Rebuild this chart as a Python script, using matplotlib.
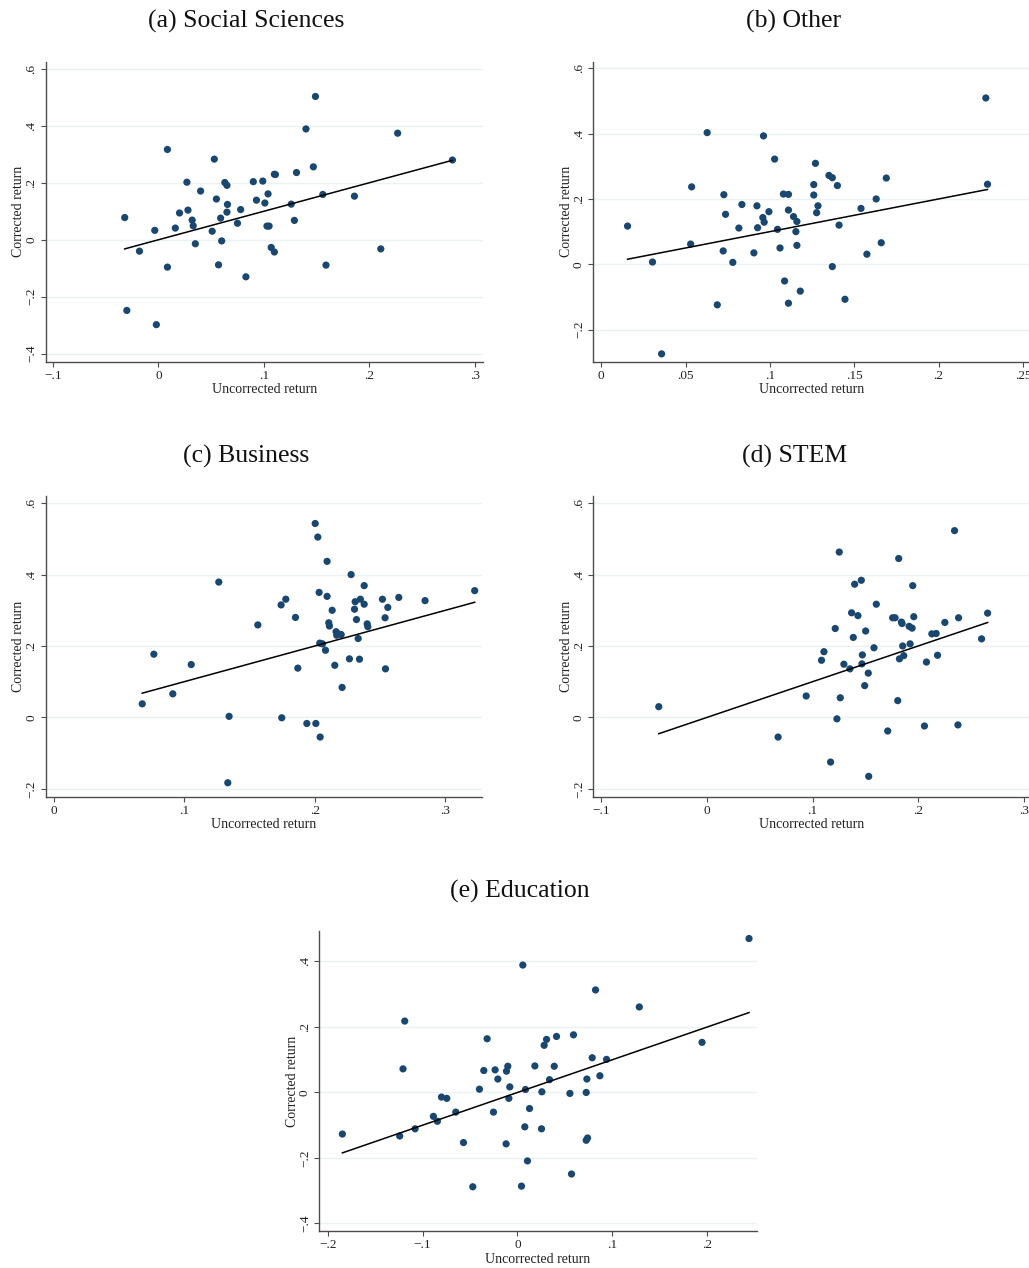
import numpy as np
import matplotlib
matplotlib.use("Agg")
import matplotlib.pyplot as plt
from matplotlib.ticker import FuncFormatter

plt.rcParams['font.family'] = ['Liberation Serif', 'DejaVu Serif']

# ---------------- data ----------------
soc_x = [0.149, 0.140, 0.227, 0.0085, 0.053, 0.279, 0.147, 0.131, 0.110, 0.111,
         0.027, 0.063, 0.090, 0.099, 0.065, 0.040, 0.104, 0.156, 0.186, 0.055,
         0.093, 0.101, 0.0655, 0.126, 0.078, 0.028, 0.065, 0.020, 0.059, -0.032,
         0.032, 0.129, 0.075, 0.033, 0.103, 0.105, 0.016, -0.0035, 0.051, 0.060,
         0.035, 0.211, 0.107, 0.110, -0.018, 0.057, 0.159, 0.0085, 0.083, -0.030,
         -0.002]
soc_y = [0.503, 0.389, 0.374, 0.317, 0.283, 0.280, 0.256, 0.236, 0.230, 0.229,
         0.202, 0.201, 0.204, 0.206, 0.191, 0.171, 0.161, 0.159, 0.153, 0.143,
         0.139, 0.129, 0.124, 0.125, 0.106, 0.104, 0.097, 0.094, 0.076, 0.078,
         0.069, 0.068, 0.058, 0.049, 0.048, 0.048, 0.041, 0.033, 0.030, -0.004,
         -0.014, -0.032, -0.027, -0.043, -0.040, -0.088, -0.089, -0.096, -0.130, -0.248,
         -0.298]

oth_x = [0.228, 0.0628, 0.0962, 0.1028, 0.127, 0.135, 0.137, 0.169, 0.126, 0.229,
         0.140, 0.0536, 0.0727, 0.108, 0.111, 0.126, 0.163, 0.0834, 0.0923, 0.1285,
         0.154, 0.111, 0.0994, 0.1277, 0.0737, 0.114, 0.0958, 0.116, 0.0966, 0.0156,
         0.141, 0.0816, 0.0927, 0.1045, 0.1154, 0.116, 0.053, 0.166, 0.106, 0.0723,
         0.0905, 0.1575, 0.0304, 0.078, 0.137, 0.1087, 0.118, 0.1445, 0.111, 0.0688,
         0.0358]
oth_y = [0.509, 0.403, 0.393, 0.322, 0.309, 0.272, 0.265, 0.264, 0.244, 0.245,
         0.241, 0.237, 0.213, 0.215, 0.214, 0.212, 0.200, 0.183, 0.179, 0.179,
         0.171, 0.166, 0.161, 0.158, 0.153, 0.146, 0.143, 0.131, 0.129, 0.117,
         0.120, 0.111, 0.112, 0.107, 0.100, 0.058, 0.062, 0.066, 0.050, 0.041,
         0.035, 0.031, 0.007, 0.006, -0.007, -0.051, -0.082, -0.107, -0.119, -0.124,
         -0.274]

bus_x = [0.2003, 0.2023, 0.2094, 0.2278, 0.1265, 0.2378, 0.3224, 0.2033, 0.2094, 0.2643,
         0.1778, 0.2349, 0.2518, 0.2309, 0.2844, 0.2378, 0.1742, 0.2559, 0.2304, 0.2133,
         0.1852, 0.2538, 0.2319, 0.2107, 0.2401, 0.1564, 0.2112, 0.2406, 0.2163, 0.2179,
         0.2202, 0.2168, 0.2332, 0.2038, 0.2059, 0.2082, 0.0768, 0.1054, 0.2153, 0.2265,
         0.2342, 0.1870, 0.2541, 0.2209, 0.0913, 0.0679, 0.1344, 0.1747, 0.1939, 0.2008,
         0.2041, 0.1334]
bus_y = [0.543, 0.505, 0.437, 0.400, 0.379, 0.369, 0.355, 0.350, 0.339, 0.336,
         0.331, 0.331, 0.331, 0.324, 0.327, 0.317, 0.315, 0.308, 0.303, 0.300,
         0.280, 0.279, 0.274, 0.265, 0.262, 0.259, 0.256, 0.254, 0.240, 0.234,
         0.232, 0.230, 0.221, 0.208, 0.206, 0.188, 0.177, 0.148, 0.146, 0.164,
         0.163, 0.138, 0.136, 0.084, 0.066, 0.038, 0.003, -0.001, -0.017, -0.017,
         -0.055, -0.183]

stem_x = [0.2345, 0.1253, 0.1816, 0.1462, 0.1399, 0.1949, 0.1604, 0.2658, 0.1370, 0.1430,
          0.1959, 0.1759, 0.1782, 0.2383, 0.1842, 0.2253, 0.1848, 0.1915, 0.1943, 0.1215,
          0.1503, 0.2130, 0.2171, 0.1386, 0.2601, 0.1924, 0.1854, 0.1582, 0.1108, 0.1472,
          0.2184, 0.1864, 0.1085, 0.1823, 0.2079, 0.1297, 0.1468, 0.1354, 0.1528, 0.1494,
          0.0940, 0.1263, 0.1807, -0.0456, 0.1231, 0.2060, 0.2377, 0.1712, 0.0674, 0.1171,
          0.1532]
stem_y = [0.523, 0.463, 0.445, 0.384, 0.373, 0.369, 0.317, 0.292, 0.293, 0.285,
          0.282, 0.279, 0.279, 0.279, 0.267, 0.266, 0.263, 0.255, 0.250, 0.249,
          0.242, 0.234, 0.235, 0.224, 0.220, 0.206, 0.200, 0.195, 0.184, 0.175,
          0.174, 0.173, 0.160, 0.164, 0.155, 0.149, 0.150, 0.136, 0.124, 0.089,
          0.060, 0.055, 0.047, 0.030, -0.004, -0.024, -0.021, -0.038, -0.055, -0.125,
          -0.165]

edu_x = [0.2439, 0.0056, 0.0822, 0.1283, -0.1188, 0.0590, 0.0411, -0.0320, 0.0306, 0.0281,
         0.1944, -0.1206, 0.0787, 0.0938, -0.0102, 0.0183, 0.0387, -0.0355, -0.0236, -0.0116,
         -0.0207, 0.0337, 0.0731, 0.0868, -0.0081, -0.0401, 0.0084, 0.0257, 0.0552, 0.0724,
         -0.0801, -0.0745, -0.0091, 0.0127, -0.0650, -0.0253, -0.0886, -0.0844, 0.0077, -0.1079,
         0.0253, -0.1845, -0.1241, 0.0738, 0.0724, -0.0569, -0.0120, 0.0105, 0.0569, 0.0042,
         -0.0471]
edu_y = [0.470, 0.389, 0.313, 0.261, 0.218, 0.176, 0.171, 0.164, 0.162, 0.144,
         0.153, 0.072, 0.106, 0.101, 0.080, 0.081, 0.080, 0.067, 0.069, 0.065,
         0.041, 0.039, 0.041, 0.051, 0.017, 0.010, 0.009, 0.002, -0.003, 0.000,
         -0.014, -0.018, -0.018, -0.049, -0.060, -0.060, -0.073, -0.088, -0.105, -0.111,
         -0.111, -0.127, -0.133, -0.139, -0.146, -0.153, -0.157, -0.209, -0.249, -0.286,
         -0.288]

titles = ["(a) Social Sciences", "(b) Other", "(c) Business", "(d) STEM", "(e) Education"]
xticks_list = [[-0.1, 0, 0.1, 0.2, 0.3],
               [0, 0.05, 0.1, 0.15, 0.2, 0.25],
               [0, 0.1, 0.2, 0.3],
               [-0.1, 0, 0.1, 0.2, 0.3],
               [-0.2, -0.1, 0, 0.1, 0.2]]
yticks_list = [[-0.4, -0.2, 0, 0.2, 0.4, 0.6],
               [-0.2, 0, 0.2, 0.4, 0.6],
               [-0.2, 0, 0.2, 0.4, 0.6],
               [-0.2, 0, 0.2, 0.4, 0.6],
               [-0.4, -0.2, 0, 0.2, 0.4]]
xlabel = "Uncorrected return"
ylabel = "Corrected return"

# ---------------- layout ----------------
W, H = 1029, 1268
fig = plt.figure(figsize=(W / 100, H / 100), dpi=100)
fig.patch.set_facecolor('white')

# axes boxes in pixels: left, right, top, bottom
boxes = [(45.7, 483, 61.7, 361.7),
         (593.3, 1029, 61.7, 361.7),
         (45.7, 482, 496, 796.7),
         (593.3, 1029, 496, 796.7),
         (319.3, 756.7, 931, 1231)]
xlims = [(-0.107, 0.308), (-0.0047, 0.2536), (-0.006, 0.328), (-0.1076, 0.305), (-0.2088, 0.252)]
ylims = [(-0.428, 0.625), (-0.298, 0.620), (-0.222, 0.620), (-0.222, 0.620), (-0.423, 0.493)]
title_pos = [(246, 21), (794, 21), (246, 456), (795, 456), (520, 891)]

datasets = [(soc_x, soc_y), (oth_x, oth_y), (bus_x, bus_y), (stem_x, stem_y), (edu_x, edu_y)]

MARKER = '#1a476f'
GRID = '#eaf2f3'
SPINE = '#4d4d4d'


def fmt(v, pos=None):
    if abs(v) < 1e-9:
        return "0"
    s = ("%g" % abs(v))
    if s.startswith("0"):
        s = s[1:]
    return ("\u2212" if v < 0 else "") + s


for i, (xs, ys) in enumerate(datasets):
    l, r, t, b = boxes[i]
    ax = fig.add_axes([l / W, 1 - b / H, (r - l) / W, (b - t) / H])
    x = np.array(xs)
    y = np.array(ys)
    ax.set_xlim(*xlims[i])
    ax.set_ylim(*ylims[i])
    ax.set_xticks(xticks_list[i])
    ax.set_yticks(yticks_list[i])
    ax.xaxis.set_major_formatter(FuncFormatter(fmt))
    ax.yaxis.set_major_formatter(FuncFormatter(fmt))
    for yt in yticks_list[i]:
        ax.axhline(yt, color=GRID, lw=1.0, zorder=0)
    ax.scatter(x, y, s=27, color=MARKER, edgecolors='none', zorder=3)
    # 45-degree reference line over the range of the data
    xf = np.array([x.min(), x.max()])
    ax.plot(xf, xf, color='black', lw=1.1, zorder=4)
    for sp in ['top', 'right']:
        ax.spines[sp].set_visible(False)
    for sp in ['left', 'bottom']:
        ax.spines[sp].set_linewidth(1.0)
        ax.spines[sp].set_color(SPINE)
    ax.tick_params(axis='both', direction='out', length=3.5, width=0.8,
                   color=SPINE, labelsize=9.5, pad=2.5, labelcolor='#222222')
    for lab in ax.get_yticklabels():
        lab.set_rotation(90)
        lab.set_va('center')
    ax.set_xlabel(xlabel, fontsize=10, labelpad=1, color='#222222')
    ax.set_ylabel(ylabel, fontsize=10, labelpad=0, color='#222222')
    fig.text(title_pos[i][0] / W, 1 - title_pos[i][1] / H, titles[i],
             fontsize=18.5, ha='center', va='center', color='#111111')

fig.savefig("out.png", dpi=100, facecolor='white')
